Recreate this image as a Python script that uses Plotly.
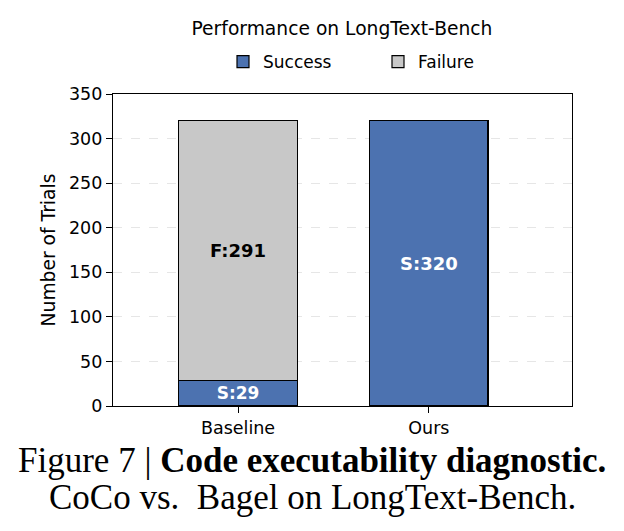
import plotly.graph_objects as go

categories = ["Baseline", "Ours"]
success = [29, 320]
failure = [291, 0]
title_text = "Performance on LongText-Bench"
caption_line1 = "Figure 7 | <b>Code executability diagnostic.</b>"
caption_line2 = "CoCo vs.  Bagel on LongText-Bench."

BLUE = "#4C72B0"
GRAY = "#C8C8C8"
FONT = "DejaVu Sans"
SERIF = "Liberation Serif"

fig = go.Figure()
fig.add_trace(go.Bar(
    x=categories, y=success, name="Success",
    marker=dict(color=BLUE, line=dict(color="black", width=1.2)),
    width=0.62,
    text=[f"<b>S:{v}</b>" for v in success],
    textposition="inside", insidetextanchor="middle",
    textfont=dict(family=FONT, size=18, color="white"),
))
fig.add_trace(go.Bar(
    x=categories, y=failure, name="Failure",
    marker=dict(color=GRAY, line=dict(color="black", width=1.2)),
    width=0.62,
    text=[f"<b>F:{v}</b>" if v > 0 else "" for v in failure],
    textposition="inside", insidetextanchor="middle",
    textfont=dict(family=FONT, size=18, color="black"),
))

fig.update_layout(
    barmode="stack",
    width=624, height=531,
    paper_bgcolor="white", plot_bgcolor="white",
    margin=dict(l=113, r=52, t=94, b=125, autoexpand=False),
    font=dict(family=FONT, size=17, color="black"),
    title=dict(text=title_text, x=342 / 624, xanchor="center", y=1 - 28 / 531,
               yanchor="middle", font=dict(family=FONT, size=18.7, color="black")),
    legend=dict(orientation="h", x=223 / 624, xref="container", xanchor="left",
                y=1 - 62 / 531, yref="container", yanchor="middle",
                font=dict(family=FONT, size=17), itemwidth=30,
                entrywidth=110, traceorder="normal"),
    showlegend=True,
)
fig.update_xaxes(
    range=[-0.655, 1.75], showline=True, linecolor="black", linewidth=1.3,
    mirror=True, ticks="outside", ticklen=6, tickcolor="black",
    tickfont=dict(family=FONT, size=17.5), showgrid=False,
)
fig.update_yaxes(
    range=[0, 350], dtick=50, showline=True, linecolor="black", linewidth=1.3,
    mirror=True, ticks="outside", ticklen=6, tickcolor="black",
    tickfont=dict(family=FONT, size=17.5),
    title=dict(text="Number of Trials", font=dict(family=FONT, size=18.7), standoff=8),
    showgrid=True, gridcolor="#e6e6e6", griddash="dash", gridwidth=0.8,
    zeroline=False,
)

cap_x = (312 - 113) / 459
fig.add_annotation(text=caption_line1, xref="paper", yref="paper",
                   x=cap_x, y=-(460 - 406) / 312, xanchor="center", yanchor="middle",
                   showarrow=False, font=dict(family=SERIF, size=35, color="black"))
fig.add_annotation(text=caption_line2, xref="paper", yref="paper",
                   x=cap_x, y=-(497 - 406) / 312, xanchor="center", yanchor="middle",
                   showarrow=False, font=dict(family=SERIF, size=35, color="black"))

fig.write_html("out.html")
